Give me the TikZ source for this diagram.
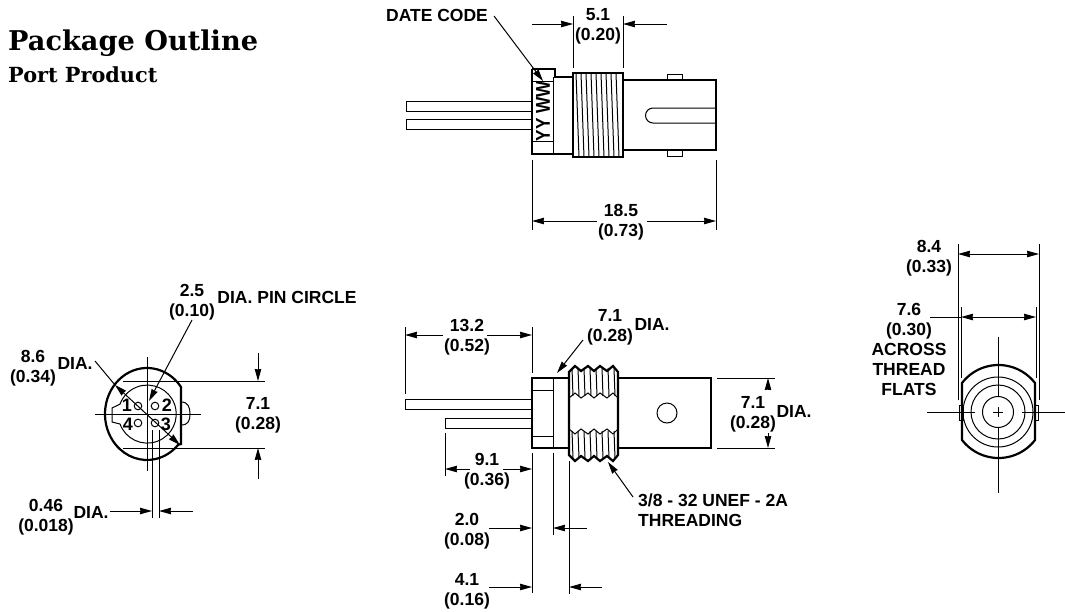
\documentclass[tikz,border=0pt]{standalone}
\usepackage{fontspec}
\setmainfont{Liberation Sans}
\newfontfamily\titlefont{DejaVu Serif}
\usepackage{tikz}
\usetikzlibrary{arrows.meta}
\pgfdeclarelayer{nodelayer}
\pgfdeclarelayer{edgelayer}
\pgfsetlayers{nodelayer,edgelayer,main}
\tikzset{
  lbl/.style={align=center, inner sep=0pt, font=\fontsize{17.5}{20}\selectfont\bfseries},
  pin/.style={inner sep=0pt, font=\fontsize{18}{18}\selectfont\bfseries},
  pt/.style={inner sep=0pt, minimum size=0pt},
  heavy/.style={line width=2.2pt, line join=miter},
  fine/.style={line width=1pt},
  tip/.style={line width=1pt, -{Stealth[length=12pt,width=6.5pt,inset=0.5pt]}},
  tips/.style={line width=1pt, {Stealth[length=12pt,width=6.5pt,inset=0.5pt]}-{Stealth[length=12pt,width=6.5pt,inset=0.5pt]}}
}
\begin{document}
\begin{tikzpicture}[x=1pt, y=-1pt]
  \useasboundingbox (0,0) rectangle (1065,611);
  \begin{pgfonlayer}{nodelayer}
    \node [inner sep=0pt, anchor=base west, font=\titlefont\fontsize{27.2}{32}\selectfont\bfseries] (0) at (8,50) {Package Outline};
    \node [inner sep=0pt, anchor=base west, font=\titlefont\fontsize{20.8}{24}\selectfont\bfseries] (1) at (8,82) {Port Product};
    % top view
    \node [lbl] (100) at (437,15) {DATE CODE};
    \node [lbl] (101) at (598,26) {5.1\\(0.20)};
    \node [lbl] (102) at (621,222) {18.5\\(0.73)};
    \node [pt] (103) at (494,16) {};
    \node [pt] (104) at (543,81) {};
    \node [pt] (105) at (573,16) {};
    \node [pt] (106) at (573,68) {};
    \node [pt] (107) at (623,16) {};
    \node [pt] (108) at (623,68) {};
    \node [pt] (109) at (532,24) {};
    \node [pt] (110) at (573,24) {};
    \node [pt] (111) at (667,24) {};
    \node [pt] (112) at (623,24) {};
    \node [pt] (113) at (532,160) {};
    \node [pt] (114) at (532,230) {};
    \node [pt] (115) at (716,160) {};
    \node [pt] (116) at (716,230) {};
    \node [pt] (117) at (597,221) {};
    \node [pt] (118) at (532,221) {};
    \node [pt] (119) at (647,221) {};
    \node [pt] (120) at (716,221) {};
    \node [rotate=90, xscale=0.86, inner sep=0pt, font=\fontsize{20}{20}\selectfont\bfseries] (121) at (543,111) {YY WW};
    % left view
    \node [lbl] (200) at (33,368) {8.6\\(0.34)};
    \node [lbl] (201) at (75,363) {DIA.};
    \node [lbl] (202) at (192,302) {2.5\\(0.10)};
    \node [lbl] (203) at (287,297) {DIA. PIN CIRCLE};
    \node [lbl] (204) at (258,415) {7.1\\(0.28)};
    \node [lbl] (205) at (46,517) {0.46\\(0.018)};
    \node [lbl] (206) at (91,512) {DIA.};
    \node [pin] (207) at (127,405.5) {1};
    \node [pin] (208) at (167,405.5) {2};
    \node [pin] (209) at (166,424.5) {3};
    \node [pin] (210) at (128,424.5) {4};
    \node [pt] (211) at (95,361) {};
    \node [pt] (212) at (115,385) {};
    \node [pt] (214) at (180,445) {};
    \node [pt] (215) at (192,320) {};
    \node [pt] (216) at (149,401) {};
    \node [pt] (217) at (123,381) {};
    \node [pt] (218) at (265,381) {};
    \node [pt] (219) at (123,448) {};
    \node [pt] (220) at (265,448) {};
    \node [pt] (221) at (258,353) {};
    \node [pt] (222) at (258,381) {};
    \node [pt] (223) at (258,479) {};
    \node [pt] (224) at (258,448) {};
    \node [pt] (225) at (152,430) {};
    \node [pt] (226) at (152,518) {};
    \node [pt] (227) at (159,430) {};
    \node [pt] (228) at (159,518) {};
    \node [pt] (229) at (110,511) {};
    \node [pt] (230) at (152,511) {};
    \node [pt] (231) at (193,511) {};
    \node [pt] (232) at (159,511) {};
    \node [pt] (233) at (147,357) {};
    \node [pt] (234) at (147,471) {};
    \node [pt] (235) at (95,414) {};
    \node [pt] (236) at (201,414) {};
    % side view
    \node [lbl] (300) at (467,337.5) {13.2\\(0.52)};
    \node [lbl] (301) at (610,327.5) {7.1\\(0.28)};
    \node [lbl] (302) at (652,324) {DIA.};
    \node [lbl] (303) at (753,414.5) {7.1\\(0.28)};
    \node [lbl] (304) at (794,411) {DIA.};
    \node [lbl] (305) at (487,471.5) {9.1\\(0.36)};
    \node [lbl] (306) at (467,531) {2.0\\(0.08)};
    \node [lbl] (307) at (467,591) {4.1\\(0.16)};
    \node [lbl, align=left, anchor=west] (308) at (638,510) {3/8 - 32 UNEF - 2A\\THREADING};
    \node [pt] (309) at (405,327) {};
    \node [pt] (310) at (405,394) {};
    \node [pt] (311) at (532,327) {};
    \node [pt] (312) at (532,373) {};
    \node [pt] (313) at (443,335) {};
    \node [pt] (314) at (405,335) {};
    \node [pt] (315) at (487,335) {};
    \node [pt] (316) at (532,335) {};
    \node [pt] (317) at (583,340) {};
    \node [pt] (318) at (557,373) {};
    \node [pt] (319) at (717,378) {};
    \node [pt] (320) at (775,378) {};
    \node [pt] (321) at (717,448) {};
    \node [pt] (322) at (775,448) {};
    \node [pt] (323) at (768,390) {};
    \node [pt] (324) at (768,378) {};
    \node [pt] (325) at (768,433) {};
    \node [pt] (326) at (768,448) {};
    \node [pt] (327) at (445,433) {};
    \node [pt] (328) at (445,476) {};
    \node [pt] (329) at (532,453) {};
    \node [pt] (330) at (532,593) {};
    \node [pt] (331) at (470,469) {};
    \node [pt] (332) at (445,469) {};
    \node [pt] (333) at (503,469) {};
    \node [pt] (334) at (532,469) {};
    \node [pt] (335) at (553,453) {};
    \node [pt] (336) at (553,535) {};
    \node [pt] (337) at (489,528) {};
    \node [pt] (338) at (532,528) {};
    \node [pt] (339) at (587,528) {};
    \node [pt] (340) at (553,528) {};
    \node [pt] (341) at (569,461) {};
    \node [pt] (342) at (569,594) {};
    \node [pt] (343) at (489,587) {};
    \node [pt] (344) at (532,587) {};
    \node [pt] (345) at (602,587) {};
    \node [pt] (346) at (569,587) {};
    \node [pt] (347) at (633,497) {};
    \node [pt] (348) at (608,462) {};
    % end view
    \node [lbl] (400) at (929,258) {8.4\\(0.33)};
    \node [lbl] (401) at (909,349) {7.6\\(0.30)\\ACROSS\\THREAD\\FLATS};
    \node [pt] (402) at (958,244) {};
    \node [pt] (403) at (958,400) {};
    \node [pt] (404) at (1039,244) {};
    \node [pt] (405) at (1039,400) {};
    \node [pt] (406) at (958,254) {};
    \node [pt] (407) at (1039,254) {};
    \node [pt] (408) at (961,307) {};
    \node [pt] (409) at (961,378) {};
    \node [pt] (410) at (1036,307) {};
    \node [pt] (411) at (1036,378) {};
    \node [pt] (412) at (930,317) {};
    \node [pt] (413) at (961,317) {};
    \node [pt] (414) at (1036,317) {};
    \node [pt] (415) at (998,337) {};
    \node [pt] (416) at (998,397) {};
    \node [pt] (417) at (998,428) {};
    \node [pt] (418) at (998,493) {};
    \node [pt] (419) at (927,412) {};
    \node [pt] (420) at (975,412) {};
    \node [pt] (421) at (1022,412) {};
    \node [pt] (422) at (1065,412) {};
  \end{pgfonlayer}
  \begin{pgfonlayer}{edgelayer}
    % top view
    \draw [tip] (103.center) to (104.center);
    \draw [fine] (105.center) to (106.center);
    \draw [fine] (107.center) to (108.center);
    \draw [tip] (109.center) to (110.center);
    \draw [tip] (111.center) to (112.center);
    \draw [fine] (113.center) to (114.center);
    \draw [fine] (115.center) to (116.center);
    \draw [tip] (117.center) to (118.center);
    \draw [tip] (119.center) to (120.center);
    % left view
    \draw [fine] (211.center) to (212.center);
    \draw [tips] (212.center) to (214.center);
    \draw [tip] (215.center) to (216.center);
    \draw [fine] (217.center) to (218.center);
    \draw [fine] (219.center) to (220.center);
    \draw [tip] (221.center) to (222.center);
    \draw [tip] (223.center) to (224.center);
    \draw [fine] (225.center) to (226.center);
    \draw [fine] (227.center) to (228.center);
    \draw [tip] (229.center) to (230.center);
    \draw [tip] (231.center) to (232.center);
    \draw [fine] (233.center) to (234.center);
    \draw [fine] (235.center) to (236.center);
    % side view
    \draw [fine] (309.center) to (310.center);
    \draw [fine] (311.center) to (312.center);
    \draw [tip] (313.center) to (314.center);
    \draw [tip] (315.center) to (316.center);
    \draw [tip] (317.center) to (318.center);
    \draw [fine] (319.center) to (320.center);
    \draw [fine] (321.center) to (322.center);
    \draw [tip] (323.center) to (324.center);
    \draw [tip] (325.center) to (326.center);
    \draw [fine] (327.center) to (328.center);
    \draw [fine] (329.center) to (330.center);
    \draw [tip] (331.center) to (332.center);
    \draw [tip] (333.center) to (334.center);
    \draw [fine] (335.center) to (336.center);
    \draw [tip] (337.center) to (338.center);
    \draw [tip] (339.center) to (340.center);
    \draw [fine] (341.center) to (342.center);
    \draw [tip] (343.center) to (344.center);
    \draw [tip] (345.center) to (346.center);
    \draw [tip] (347.center) to (348.center);
    % end view
    \draw [fine] (402.center) to (403.center);
    \draw [fine] (404.center) to (405.center);
    \draw [tips] (406.center) to (407.center);
    \draw [fine] (408.center) to (409.center);
    \draw [fine] (410.center) to (411.center);
    \draw [fine] (412.center) to (413.center);
    \draw [tips] (413.center) to (414.center);
    \draw [fine] (415.center) to (416.center);
    \draw [fine] (417.center) to (418.center);
    \draw [fine] (419.center) to (420.center);
    \draw [fine] (421.center) to (422.center);
  \end{pgfonlayer}
  % top view outline
  \draw [heavy] (532,69) -- (555,69) -- (555,77) -- (573,77) (532,69) -- (532,154) -- (573,154);
  \draw [fine] (553,77) -- (553,154) (532,81) -- (553,81) (532,141) -- (553,141);
  \draw [heavy] (573,73) rectangle (623,157);
  \foreach \x in {576,581,...,616} \draw [fine] (\x,73) -- (\x+3,157);
  \draw [heavy] (623,80) -- (716,80) -- (716,150) -- (623,150);
  \draw [fine] (716,108) -- (653,108) arc[start angle=-90, end angle=-270, radius=7.5] -- (716,123);
  \draw [fine] (667,80) -- (667,74) -- (682,74) -- (682,80) (667,150) -- (667,156) -- (682,156) -- (682,150);
  \draw [fine] (532,101) -- (406,101) -- (406,111) -- (532,111);
  \draw [fine] (532,119) -- (406,119) -- (406,129) -- (532,129);
  % left view outline
  \draw [heavy] (181,444) -- (181,387) -- (178.2,383.2) arc[start angle=-42, end angle=-318, x radius=42, y radius=46] -- cycle;
  \draw [fine] (120,424) arc[start angle=160, end angle=-160, radius=29] -- (112,408) -- (112,422) -- (120,424);
  \draw [fine] (181,402) .. controls (188,402) and (190,407) .. (190,414) .. controls (190,421) and (188,425) .. (181,425);
  \foreach \x/\y in {138/406,155/406,138/423,155/423} \draw [fine] (\x,\y) circle (3.8);
  % side view outline
  \draw [heavy] (569,378) -- (532,378) -- (532,448) -- (569,448);
  \draw [heavy] (618,378) -- (711,378) -- (711,448) -- (618,448);
  \draw [fine] (553,378) -- (553,448) (532,390) -- (553,390) (532,436) -- (553,436);
  \draw [fine] (405,399) rectangle (532,409) (445,418) rectangle (532,428);
  \draw [fine] (667,413) circle (10);
  \draw [heavy] (569,372) -- (575,366) -- (581,371) -- (588,366) -- (594,371) -- (600,366) -- (607,371) -- (613,366) -- (618,372) -- (618,455) -- (613,461) -- (607,456) -- (600,461) -- (594,456) -- (588,461) -- (581,456) -- (575,461) -- (569,455) -- cycle;
  \draw [fine] (569,398) -- (575,393) -- (581,398) -- (588,393) -- (594,398) -- (600,393) -- (607,398) -- (613,393) -- (618,398);
  \draw [fine] (569,429) -- (575,434) -- (581,429) -- (588,434) -- (594,429) -- (600,434) -- (607,429) -- (613,434) -- (618,429);
  \foreach \x in {572,578,...,614} {
    \draw [fine] (\x,368) -- (\x+1,396);
    \draw [fine] (\x,431) -- (\x+1,458);
  }
  % end view outline
  \draw [heavy] (962,383) arc[start angle=-142.5, end angle=-37.5, radius=46] -- (1035,440) arc[start angle=37.5, end angle=142.5, radius=46] -- cycle;
  \draw [fine] (998,412) circle (15.5) circle (27) circle (35);
  \draw [fine] (993,412) -- (1003,412) (998,407) -- (998,417);
  \draw [fine] (959,405) rectangle (963,420) (1034,405) rectangle (1038,420);
\end{tikzpicture}
\end{document}
